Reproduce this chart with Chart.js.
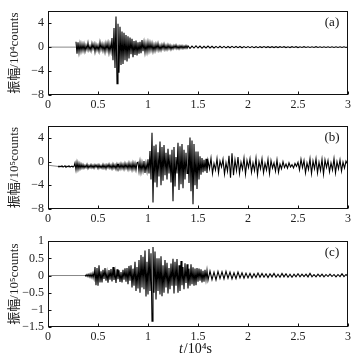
<!DOCTYPE html>
<html>
<head>
<meta charset="utf-8">
<script src="https://cdn.jsdelivr.net/npm/chart.js@4"></script>
<style>
  body { margin: 0; background: #fff; }
  #wrap { position: relative; width: 358px; height: 361px; }
  canvas { position: absolute; left: 0; }
</style>
</head>
<body>
<div id="wrap">
  <canvas id="chartA" width="358" height="115" style="top:0px"></canvas>
  <canvas id="chartB" width="358" height="115" style="top:115px"></canvas>
  <canvas id="chartC" width="358" height="131" style="top:230px"></canvas>
</div>
<script>
// time axis in 10^4 s
const xTicks = [0, 0.5, 1, 1.5, 2, 2.5, 3];
const aYTicks = [-8, -4, 0, 4];
const bYTicks = [-8, -4, 0, 4];
const cYTicks = [-1.5, -1, -0.5, 0, 0.5, 1];

// (a) amplitude, 10^4 counts
const aQuietT = [0, 0.28];
const aQuiet = [0, 0];
const aEarly = [ // from 0.28, every 0.01
    0.9, -1.1, 0.8, -0.9, 0.6, -0.7, 0.5, -0.6,
    0.5, -0.7, 0.3, -0.4, 0.7, -0.5, 0.2, -0.6, 0.6, -0.3, 0.5, -0.8, 0.4, -0.5,
    0.3, -0.7, 0.8, -0.4, 0.5, -0.6, 0.4, -0.8, 0.6, -0.5, 0.7, -0.9, 0.5, -0.7,
    1.5, -2.2, 3.2, -3.5, 5.1, -6.1, 3.9, -4.3, 3.4, -3.0, 2.6, -2.8, 2.4, -2.2, 2.0, -2.4, 1.8,
    -1.9, 1.6, -1.2, 1.4, -1.7, 1.0, -1.3, 1.1, -1.4, 0.8, -1.1, 0.9, -1.0, 1.2, -0.7, 0.8, -0.9, 0.6, -0.8, 0.8,
    -0.6, 0.7, -0.5, 0.6, -0.7, 0.4, -0.6, 0.5, -0.4, 0.6, -0.5, 0.3, -0.5, 0.4, -0.3, 0.5, -0.4, 0.3, -0.4, 0.4,
    -0.3, 0.3, -0.4, 0.2, -0.3, 0.3, -0.2, 0.35, -0.25, 0.2, -0.3, 0.25, -0.2, 0.25, -0.25, 0.2, -0.2, 0.25, -0.2, 0.2
];
const aLate = [ // from 1.42, every 0.02
    -0.2, 0.18, -0.16, 0.2, -0.15, 0.18, -0.17, 0.14, -0.15, 0.17, -0.14, 0.13, -0.15, 0.12, -0.13, 0.14, -0.12, 0.13, -0.12, 0.11,
    -0.11, 0.12, -0.1, 0.11, -0.1, 0.1, -0.11, 0.09, -0.1, 0.1, -0.09, 0.1, -0.09, 0.08, -0.1, 0.08, -0.08, 0.09, -0.08, 0.08,
    -0.08, 0.07, -0.08, 0.08, -0.07, 0.08, -0.06, 0.07, -0.08, 0.06, -0.07, 0.07, -0.06, 0.08, -0.07, 0.06, -0.06, 0.07, -0.06, 0.06,
    -0.06, 0.06, -0.05, 0.07, -0.06, 0.05, -0.06, 0.06, -0.05, 0.06, -0.06, 0.05, -0.05, 0.06, -0.05, 0.05, -0.06, 0.05, -0.05, 0.05
];

// (b) amplitude, 10^5 counts
const bQuietT = [0, 0.1];
const bQuiet = [-0.6, -0.8];
const bEarly = [ // from 0.10, every 0.01
    -0.7, -0.9, -0.75, -0.85, -0.7, -0.9, -0.8, -0.7, -0.95, -0.75, -0.85, -0.7, -0.9, -0.8, -0.75, -0.9, -0.8,
    -0.2, -1.4, -0.1, -1.3, -0.3, -1.2, -0.4, -1.1,
    -0.5, -1.1, -0.6, -1.0, -0.45, -1.15, -0.6, -1.0, -0.5, -1.05,
    -0.6, -1.1, -0.5, -0.95, -0.55, -1.15, -0.5, -1.05, -0.65, -1.1,
    -0.45, -1.1, -0.55, -1.2, -0.5, -1.0, -0.4, -1.1, -0.55, -1.2,
    -0.4, -1.1, -0.55, -1.25, -0.4, -1.05, -0.45, -1.2, -0.35, -1.15,
    -0.45, -1.25, -0.3, -1.1, -0.4, -1.3, -0.25, -1.2, -0.35, -1.35,
    -0.2, -1.25, -0.3, -1.4, -0.2,
    -0.1, -1.6, 0.0, -1.7, -0.2, -1.5, 0.1, -1.9, -0.3, -1.6, 0.4
];
const bMain = [ // from 1.01, every 0.01
    -2.0, 1.8, -3.0, 4.9, -6.9, 2.7, -3.5, 2.9, -4.3, 1.6,
    -2.5, 3.4, -4.0, 2.5, -3.2, 2.8, -2.3, 1.5, -3.0, 2.2,
    -2.0, 1.2, -3.5, 2.0, -6.7, 2.5, -4.2, 0.8, -2.0, 3.2,
    -4.8, 2.6, -3.8, 3.0, -4.5, 2.0, -3.0, 1.5, -2.0, 2.8,
    -3.6, 4.1, -5.0, 3.6, -7.2, 3.0, -4.0, 1.7, -4.6, 1.7,
    -3.0, 0.9, -2.2, 0.6, -1.8, 0.3, -1.6, 0.5, -1.9, 0.2
];
const bCoda = [ // from 1.615, every 0.015
    -1.2, 0.6, -2.0, -0.3, -1.4, 0.5, -1.9, 0.1, -0.9, 0.4,
    -2.1, -0.2, -1.6, 1.0, -2.7, 1.4, -2.3, 0.3, -1.5, 0.8,
    -2.0, -0.1, -1.3, 0.6, -2.1, 0.2, -1.0, 0.5, -1.8, -0.2,
    -1.5, 0.6, -2.2, 0.0, -1.2, 0.5, -1.9, -0.3, -1.4, 0.4,
    -2.0, 0.2, -1.1, -0.2, -1.6, 0.3, -1.8, -0.4, -1.2, 0.0,
    -1.0, -0.4, -1.1, -0.2, -0.9, -0.5, -1.05, -0.3, -0.8, -0.1,
    -1.4, 0.4, -1.0, 0.2, -1.9, -0.2, -1.3, 0.5, -2.0, 0.1,
    -1.2, 0.5, -1.9, -0.1, -1.5, 0.4, -2.1, 0.3, -1.0, 0.2,
    -1.7, -0.2, -1.4, 0.5, -1.9, 0.0, -1.2, 0.3, -1.6, -0.1,
    -1.1, 0.1, -0.4
];

// (c) amplitude, 10^5 counts
const cQuietT = [0, 0.37];
const cQuiet = [0, 0];
const cEarly = [ // from 0.37, every 0.01
    0.02, -0.02, 0.03, -0.03, 0.04, -0.05, 0.05, -0.06, 0.07, -0.08
];
const cMain = [ // from 0.47, every 0.01
    0.25, -0.28, 0.22, -0.3, 0.3, -0.2,
    0.12, -0.2, 0.17, -0.1, 0.22, -0.15, 0.1, -0.21, 0.16, -0.12, 0.19, -0.17, 0.25, -0.13,
    0.12, -0.22, 0.18, -0.11, 0.15, -0.19, 0.1, -0.2, 0.17, -0.12, 0.21, -0.18, 0.22,
    -0.25, 0.28, -0.15, 0.3, -0.35, 0.2, -0.3, 0.4, -0.45, 0.25, -0.38, 0.45,
    -0.5, 0.6, -0.35, 0.55, -0.4, 0.73, -0.61, 0.4, -0.55, 0.77, -0.45, 0.65, -1.33, 0.83, -0.5, 0.7, -0.7, 0.5, -0.45,
    0.5, -0.55, 0.56, -0.6, 0.3, -0.5, 0.45, -0.35, 0.37, -0.52, 0.22, -0.4, 0.35, -0.3, 0.49, -0.52, 0.4, -0.3, 0.48, -0.5,
    0.3, -0.45, 0.42, -0.28, 0.25, -0.4, 0.36, -0.22, 0.33, -0.38, 0.2, -0.3, 0.33, -0.25, 0.24, -0.3, 0.2, -0.28, 0.22, -0.18,
    0.2, -0.15, 0.18, -0.2, 0.14, -0.18, 0.17, -0.12, 0.15, -0.14
];
const cLate = [ // from 1.62, every 0.02
    0.13, -0.12, 0.1, -0.13, 0.12, -0.09, 0.11, -0.1, 0.12, -0.08, 0.1, -0.1, 0.08, -0.09, 0.1, -0.07, 0.08, -0.08, 0.07, -0.07,
    0.06, -0.07, 0.05, -0.06, 0.07, -0.05, 0.06, -0.05, 0.05, -0.06, 0.05, -0.04, 0.06, -0.05, 0.04, -0.05, 0.06, -0.04, 0.05, -0.05,
    0.04, -0.05, 0.04, -0.04, 0.05, -0.04, 0.04, -0.03, 0.04, -0.04, 0.06, -0.04, 0.03, -0.04, 0.04, -0.03, 0.04, -0.04, 0.03, -0.03,
    0.04, -0.03, 0.03, -0.04, 0.03, -0.03, 0.05, -0.03, 0.03, -0.03
];

function series(start, step, values) {
    return values.map((v, i) => ({ x: start + i * step, y: v }));
}
function pairs(times, values) {
    return values.map((v, i) => ({ x: times[i], y: v }));
}
function fmt(v) {
    return String(v).replace('-', '\u2212');
}

const serif = '"Liberation Serif", "Times New Roman", serif';

const framePlugin = {
    id: 'frame',
    afterDraw(chart, args, opts) {
        const { ctx, chartArea: ca } = chart;
        const xs = chart.scales.x, ys = chart.scales.y;
        const l = Math.round(ca.left) + 0.5, r = Math.round(ca.right) - 0.5;
        const t = Math.round(ca.top) + 0.5, b = Math.round(ca.bottom) - 0.5;
        ctx.save();
        ctx.strokeStyle = '#111';
        ctx.lineWidth = 1;
        ctx.strokeRect(l, t, r - l, b - t);
        ctx.beginPath();
        xs.ticks.forEach(tk => {
            const px = Math.round(xs.getPixelForValue(tk.value)) + 0.5;
            ctx.moveTo(px, b);
            ctx.lineTo(px, b - 3);
        });
        ys.ticks.forEach(tk => {
            const py = Math.round(ys.getPixelForValue(tk.value)) + 0.5;
            ctx.moveTo(l, py);
            ctx.lineTo(l + 3, py);
        });
        ctx.stroke();

        ctx.fillStyle = '#111';
        ctx.font = '13px ' + serif;
        ctx.textAlign = 'center';
        ctx.textBaseline = 'middle';
        ctx.fillText(opts.label, ca.right - 16, ca.top + 11);

        if (opts.xTitle) {
            const it = 'italic 14px ' + serif, rm = '14px ' + serif;
            ctx.font = it;
            const w1 = ctx.measureText('t').width;
            ctx.font = rm;
            const w2 = ctx.measureText('/10\u2074s').width;
            let x0 = 195 - (w1 + w2) / 2;
            const y0 = chart.height - 12;
            ctx.textAlign = 'left';
            ctx.font = it;
            ctx.fillText('t', x0, y0);
            ctx.font = rm;
            ctx.fillText('/10\u2074s', x0 + w1 + 1, y0);
        }
        ctx.restore();
    }
};

function makeChart(id, datasets, yMin, yMax, yTicks, yTitle, label, padTop, xHeight, xTitle) {
    return new Chart(document.getElementById(id), {
        type: 'line',
        data: { datasets: datasets },
        options: {
            responsive: false,
            animation: false,
            events: [],
            layout: { padding: { left: 0, right: 10, top: padTop, bottom: 0 } },
            elements: { point: { radius: 0 }, line: { tension: 0 } },
            plugins: {
                legend: { display: false },
                tooltip: { enabled: false },
                frame: { label: label, xTitle: xTitle }
            },
            scales: {
                x: {
                    type: 'linear',
                    min: 0,
                    max: 3,
                    grid: { display: false, drawTicks: false },
                    border: { display: false },
                    afterBuildTicks: s => { s.ticks = xTicks.map(v => ({ value: v })); },
                    afterFit: s => { s.height = xHeight; },
                    ticks: {
                        padding: 3,
                        autoSkip: false,
                        color: '#222',
                        font: { family: serif, size: 12 },
                        maxRotation: 0,
                        callback: v => fmt(v)
                    }
                },
                y: {
                    min: yMin,
                    max: yMax,
                    grid: { display: false, drawTicks: false },
                    border: { display: false },
                    afterBuildTicks: s => { s.ticks = yTicks.map(v => ({ value: v })); },
                    afterFit: s => { s.width = 48; },
                    ticks: {
                        padding: 4,
                        autoSkip: false,
                        color: '#222',
                        font: { family: serif, size: 12 },
                        callback: v => fmt(v)
                    },
                    title: {
                        display: true,
                        text: yTitle,
                        color: '#222',
                        font: { family: serif + ', "Noto Sans CJK SC"', size: 13 },
                        padding: { top: 7, bottom: 0 }
                    }
                }
            }
        },
        plugins: [framePlugin]
    });
}

function quietSet(points) {
    return { data: points, borderColor: '#888', borderWidth: 1, parsing: false };
}
function traceSet(points) {
    return { data: points, borderColor: '#000', borderWidth: 1.1, parsing: false };
}

makeChart('chartA', [
    quietSet(pairs(aQuietT, aQuiet)),
    traceSet([...series(0.28, 0.01, aEarly), ...series(1.42, 0.02, aLate)])
], -8, 6, aYTicks, '振幅/10\u2074counts', '(a)', 7, 20, false);

makeChart('chartB', [
    quietSet(pairs(bQuietT, bQuiet)),
    traceSet([...series(0.10, 0.01, bEarly), ...series(1.01, 0.01, bMain), ...series(1.615, 0.015, bCoda)])
], -8, 6, bYTicks, '振幅/10\u2075counts', '(b)', 7, 21, false);

makeChart('chartC', [
    quietSet(pairs(cQuietT, cQuiet)),
    traceSet([...series(0.37, 0.01, cEarly), ...series(0.47, 0.01, cMain), ...series(1.62, 0.02, cLate)])
], -1.5, 1, cYTicks, '振幅/10\u2075counts', '(c)', 9, 34, true);
</script>
</body>
</html>
